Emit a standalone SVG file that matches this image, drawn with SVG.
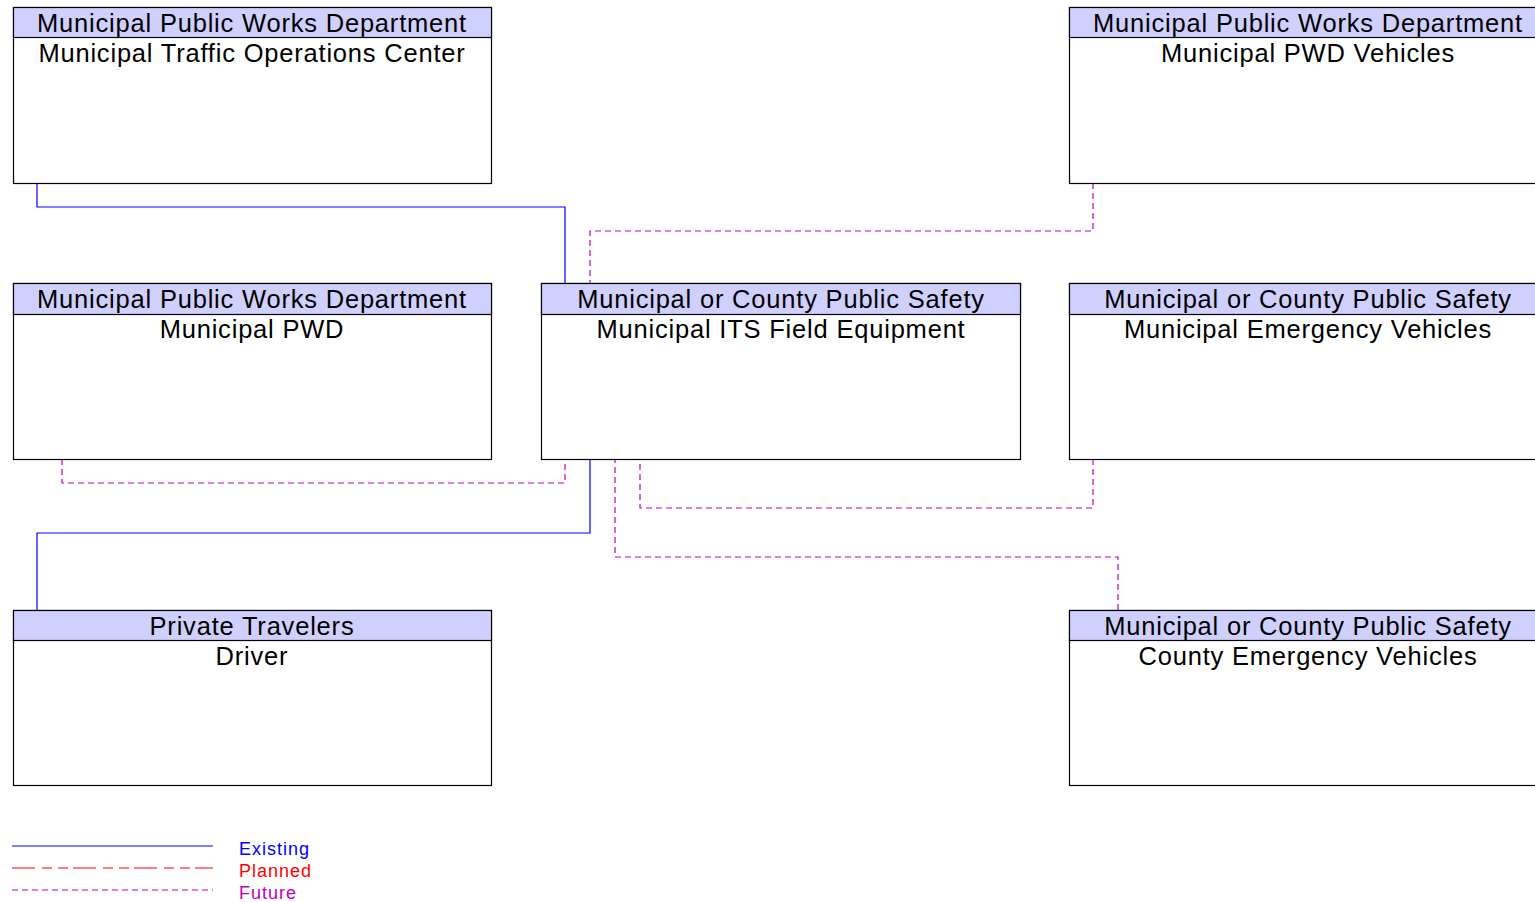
<svg xmlns="http://www.w3.org/2000/svg" width="1535" height="902" viewBox="0 0 1535 902">
<style>
.box{fill:#fff;stroke:#000;stroke-width:1.2}
.hdr{fill:#d0d0ff;stroke:#000;stroke-width:1.2}
.t{font-family:"Liberation Sans",Arial,sans-serif;font-size:25.5px;letter-spacing:0.8px;text-anchor:middle;fill:#000}
.ex{fill:none;stroke:#0000ff;stroke-width:1.2}
.fu{fill:none;stroke:#c000c0;stroke-width:1.2;stroke-dasharray:6,4}
.pl{fill:none;stroke:#ff0000;stroke-width:1.2;stroke-dasharray:23,7,10,6,10,5}
.lg{font-family:"Liberation Sans",Arial,sans-serif;font-size:18px;letter-spacing:1px}
</style>
<rect width="1535" height="902" fill="#fff"/>
<g id="connectors">
<polyline class="ex" points="37,183 37,207 565,207 565,283"/>
<polyline class="fu" points="1093,183 1093,231 590,231 590,283"/>
<polyline class="fu" points="62,459 62,483 565,483 565,459"/>
<polyline class="ex" points="37,610 37,533 590,533 590,459"/>
<polyline class="fu" points="1093,459 1093,508 640,508 640,459"/>
<polyline class="fu" points="1118,610 1118,557 615,557 615,459"/>
</g>
<g id="n_toc">
<rect class="box" x="13.5" y="7.5" width="478" height="176"/>
<rect class="hdr" x="13.5" y="7.5" width="478" height="30"/>
<text class="t" x="252" y="32">Municipal Public Works Department</text>
<text class="t" x="252" y="62">Municipal Traffic Operations Center</text>
</g>
<g id="n_pwdveh">
<rect class="box" x="1069.5" y="7.5" width="478" height="176"/>
<rect class="hdr" x="1069.5" y="7.5" width="478" height="30"/>
<text class="t" x="1308" y="32">Municipal Public Works Department</text>
<text class="t" x="1308" y="62">Municipal PWD Vehicles</text>
</g>
<g id="n_pwd">
<rect class="box" x="13.5" y="283.5" width="478" height="176"/>
<rect class="hdr" x="13.5" y="283.5" width="478" height="31"/>
<text class="t" x="252" y="308">Municipal Public Works Department</text>
<text class="t" x="252" y="338">Municipal PWD</text>
</g>
<g id="n_its">
<rect class="box" x="541.5" y="283.5" width="479" height="176"/>
<rect class="hdr" x="541.5" y="283.5" width="479" height="31"/>
<text class="t" x="781" y="308">Municipal or County Public Safety</text>
<text class="t" x="781" y="338">Municipal ITS Field Equipment</text>
</g>
<g id="n_emv">
<rect class="box" x="1069.5" y="283.5" width="478" height="176"/>
<rect class="hdr" x="1069.5" y="283.5" width="478" height="31"/>
<text class="t" x="1308" y="308">Municipal or County Public Safety</text>
<text class="t" x="1308" y="338">Municipal Emergency Vehicles</text>
</g>
<g id="n_driver">
<rect class="box" x="13.5" y="610.5" width="478" height="175"/>
<rect class="hdr" x="13.5" y="610.5" width="478" height="30"/>
<text class="t" x="252" y="635">Private Travelers</text>
<text class="t" x="252" y="665">Driver</text>
</g>
<g id="n_cev">
<rect class="box" x="1069.5" y="610.5" width="478" height="175"/>
<rect class="hdr" x="1069.5" y="610.5" width="478" height="30"/>
<text class="t" x="1308" y="635">Municipal or County Public Safety</text>
<text class="t" x="1308" y="665">County Emergency Vehicles</text>
</g>
<g id="legend">
<line class="ex" x1="12" y1="846" x2="213" y2="846"/>
<line class="pl" x1="12" y1="868" x2="213" y2="868"/>
<line class="fu" x1="12" y1="890" x2="213" y2="890"/>
<text class="lg" x="239" y="855" fill="#0000ff">Existing</text>
<text class="lg" x="239" y="877" fill="#ff0000">Planned</text>
<text class="lg" x="239" y="899" fill="#c000c0">Future</text>
</g>
</svg>
